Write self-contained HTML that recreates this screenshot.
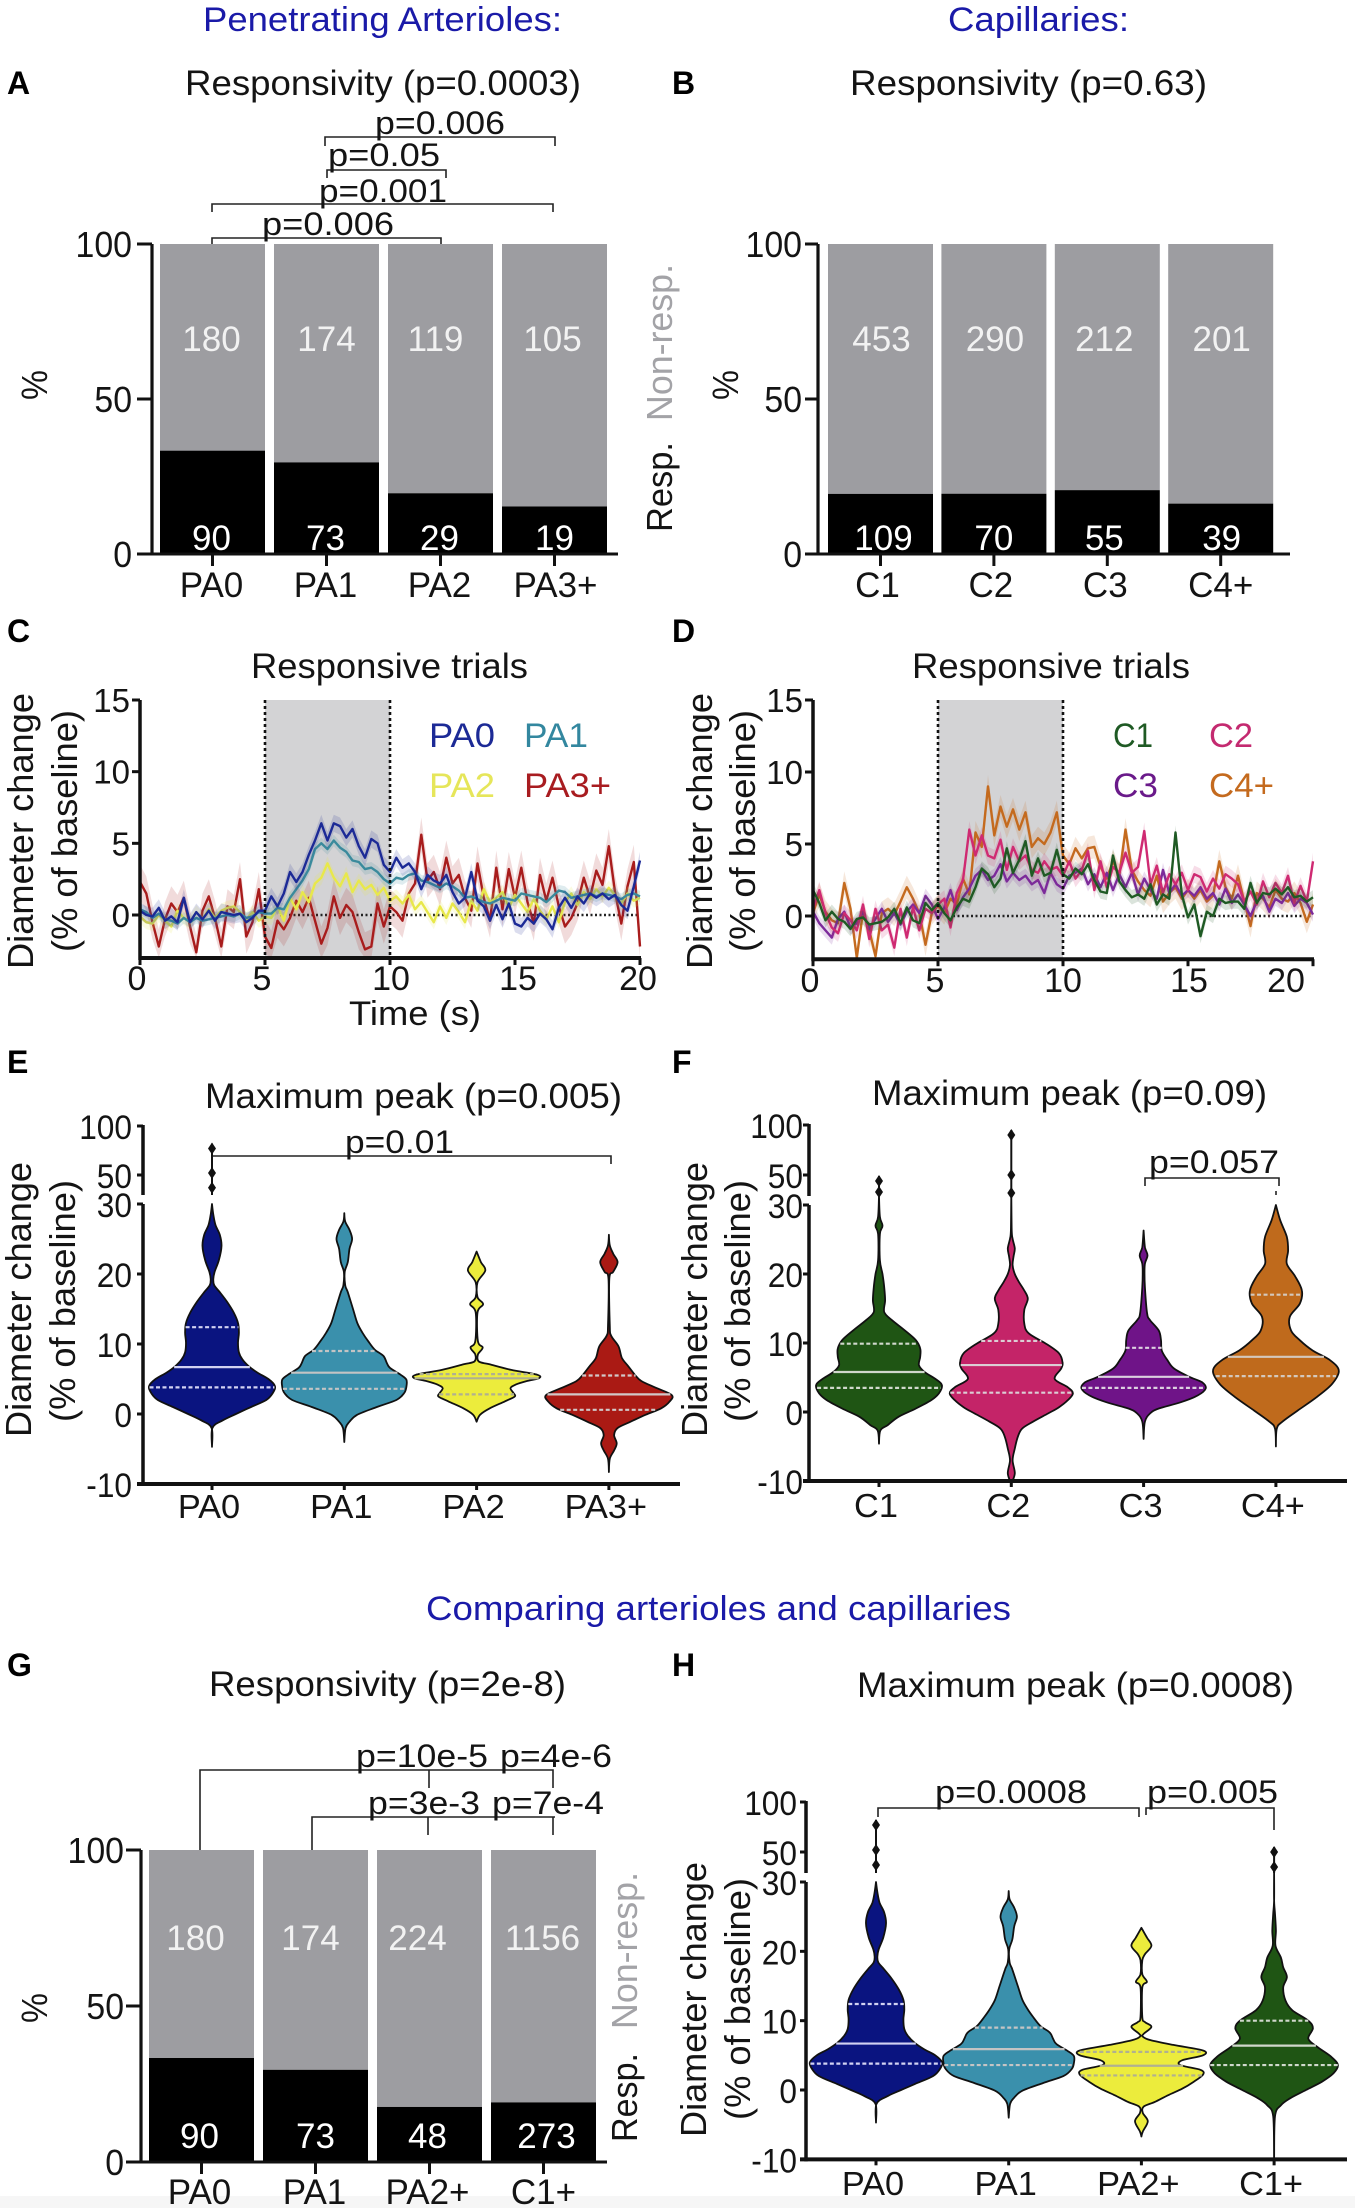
<!DOCTYPE html>
<html lang="en">
<head>
<meta charset="utf-8">
<title>Penetrating arterioles and capillaries responsivity figure</title>
<style>
html,body{margin:0;padding:0;background:#fff;}
svg{display:block;}
text{font-family:"Liberation Sans",Arial,sans-serif;fill:#141414;}
.ttl{font-size:35px;}
.sec{font-size:34px;fill:#1a1aa8;}
.let{font-size:32px;font-weight:bold;fill:#000;}
.pv{font-size:32px;}
.yl{font-size:36px;}
.lg{font-size:34px;}
.brk{fill:none;stroke:#222;stroke-width:1.6;}
</style>
</head>
<body>
<svg id="figure" xmlns="http://www.w3.org/2000/svg" width="1355" height="2208" viewBox="0 0 1355 2208">
<rect x="0" y="0" width="1355" height="2208" fill="#ffffff"/>
<rect x="0" y="2196" width="1355" height="12" fill="#f6f6f6"/>

<text class="sec" x="203" y="31" textLength="359" lengthAdjust="spacingAndGlyphs">Penetrating Arterioles:</text>
<text class="sec" x="948" y="31" textLength="181" lengthAdjust="spacingAndGlyphs">Capillaries:</text>
<text class="sec" x="426" y="1620" textLength="585" lengthAdjust="spacingAndGlyphs">Comparing arterioles and capillaries</text>

<text class="let" x="7" y="94">A</text>
<text class="let" x="672" y="94">B</text>
<text class="let" x="7" y="642">C</text>
<text class="let" x="672" y="642">D</text>
<text class="let" x="7" y="1073">E</text>
<text class="let" x="672" y="1073">F</text>
<text class="let" x="7" y="1676">G</text>
<text class="let" x="672" y="1676">H</text>

<text class="ttl" x="185" y="95" textLength="396" lengthAdjust="spacingAndGlyphs">Responsivity (p=0.0003)</text>
<text class="ttl" x="850" y="95" textLength="357" lengthAdjust="spacingAndGlyphs">Responsivity (p=0.63)</text>
<text class="ttl" x="251" y="678" textLength="277" lengthAdjust="spacingAndGlyphs">Responsive trials</text>
<text class="ttl" x="912" y="678" textLength="278" lengthAdjust="spacingAndGlyphs">Responsive trials</text>
<text class="ttl" x="205" y="1108" textLength="417" lengthAdjust="spacingAndGlyphs">Maximum peak (p=0.005)</text>
<text class="ttl" x="872" y="1105" textLength="395" lengthAdjust="spacingAndGlyphs">Maximum peak (p=0.09)</text>
<text class="ttl" x="209" y="1696" textLength="357" lengthAdjust="spacingAndGlyphs">Responsivity (p=2e-8)</text>
<text class="ttl" x="857" y="1697" textLength="437" lengthAdjust="spacingAndGlyphs">Maximum peak (p=0.0008)</text>

<g>
<path class="brk" d="M325 146V137H555V146"/>
<path class="brk" d="M327 178V170H446V178"/>
<path class="brk" d="M212 212V204H553V212"/>
<path class="brk" d="M212 244V238H441V244"/>
<text class="pv" x="375" y="134" textLength="130" lengthAdjust="spacingAndGlyphs">p=0.006</text>
<text class="pv" x="328" y="166" textLength="112" lengthAdjust="spacingAndGlyphs">p=0.05</text>
<text class="pv" x="319" y="202" textLength="128" lengthAdjust="spacingAndGlyphs">p=0.001</text>
<text class="pv" x="262" y="235" textLength="132" lengthAdjust="spacingAndGlyphs">p=0.006</text>
</g>

<g>
<path class="brk" d="M212 1156H611V1164"/>
<text class="pv" x="345" y="1153" textLength="109" lengthAdjust="spacingAndGlyphs">p=0.01</text>
</g>
<g>
<path class="brk" d="M1145 1186V1178H1279V1186"/>
<path class="brk" d="M1276 1191V1195"/>
<text class="pv" x="1149" y="1173" textLength="130" lengthAdjust="spacingAndGlyphs">p=0.057</text>
</g>
<g>
<path class="brk" d="M200 1852V1770H553V1788M429 1770V1788"/>
<path class="brk" d="M312 1852V1817H555M428 1817V1835M553 1817V1835"/>
<text class="pv" x="356" y="1767" textLength="132" lengthAdjust="spacingAndGlyphs">p=10e-5</text>
<text class="pv" x="500" y="1767" textLength="112" lengthAdjust="spacingAndGlyphs">p=4e-6</text>
<text class="pv" x="368" y="1814" textLength="112" lengthAdjust="spacingAndGlyphs">p=3e-3</text>
<text class="pv" x="492" y="1814" textLength="112" lengthAdjust="spacingAndGlyphs">p=7e-4</text>
</g>
<g>
<path class="brk" d="M878 1817V1808H1139V1817"/>
<path class="brk" d="M1146 1815V1808H1274V1830"/>
<text class="pv" x="935" y="1803" textLength="152" lengthAdjust="spacingAndGlyphs">p=0.0008</text>
<text class="pv" x="1147" y="1803" textLength="131" lengthAdjust="spacingAndGlyphs">p=0.005</text>
</g>

<text class="yl" transform="translate(47,400) rotate(-90)" textLength="30" lengthAdjust="spacingAndGlyphs">%</text>
<text class="yl" transform="translate(738,400) rotate(-90)" textLength="30" lengthAdjust="spacingAndGlyphs">%</text>
<text class="yl" transform="translate(47,2023) rotate(-90)" textLength="30" lengthAdjust="spacingAndGlyphs">%</text>

<text class="yl" transform="translate(672,532) rotate(-90)" textLength="90" lengthAdjust="spacingAndGlyphs">Resp.</text>
<text class="yl" style="fill:#a3a3a7" transform="translate(672,421) rotate(-90)" textLength="157" lengthAdjust="spacingAndGlyphs">Non-resp.</text>
<text class="yl" transform="translate(637,2142) rotate(-90)" textLength="89" lengthAdjust="spacingAndGlyphs">Resp.</text>
<text class="yl" style="fill:#a3a3a7" transform="translate(637,2029) rotate(-90)" textLength="157" lengthAdjust="spacingAndGlyphs">Non-resp.</text>

<g>
<text class="yl" transform="translate(33,969) rotate(-90)" textLength="276" lengthAdjust="spacingAndGlyphs">Diameter change</text>
<text class="yl" transform="translate(77,952) rotate(-90)" textLength="242" lengthAdjust="spacingAndGlyphs">(% of baseline)</text>
</g>
<g>
<text class="yl" transform="translate(712,969) rotate(-90)" textLength="276" lengthAdjust="spacingAndGlyphs">Diameter change</text>
<text class="yl" transform="translate(755,952) rotate(-90)" textLength="242" lengthAdjust="spacingAndGlyphs">(% of baseline)</text>
</g>
<g>
<text class="yl" transform="translate(31,1437) rotate(-90)" textLength="275" lengthAdjust="spacingAndGlyphs">Diameter change</text>
<text class="yl" transform="translate(75,1422) rotate(-90)" textLength="242" lengthAdjust="spacingAndGlyphs">(% of baseline)</text>
</g>
<g>
<text class="yl" transform="translate(707,1437) rotate(-90)" textLength="275" lengthAdjust="spacingAndGlyphs">Diameter change</text>
<text class="yl" transform="translate(750,1422) rotate(-90)" textLength="242" lengthAdjust="spacingAndGlyphs">(% of baseline)</text>
</g>
<g>
<text class="yl" transform="translate(706,2137) rotate(-90)" textLength="275" lengthAdjust="spacingAndGlyphs">Diameter change</text>
<text class="yl" transform="translate(750,2120) rotate(-90)" textLength="242" lengthAdjust="spacingAndGlyphs">(% of baseline)</text>
</g>

<text class="lg" x="349" y="1025" textLength="132" lengthAdjust="spacingAndGlyphs">Time (s)</text>

<g id="charts"></g>

<g>
<text class="lg" style="fill:#1c2a96" x="429" y="747" textLength="66" lengthAdjust="spacingAndGlyphs">PA0</text>
<text class="lg" style="fill:#33879f" x="524" y="747" textLength="64" lengthAdjust="spacingAndGlyphs">PA1</text>
<text class="lg" style="fill:#e6e65a" x="429" y="797" textLength="66" lengthAdjust="spacingAndGlyphs">PA2</text>
<text class="lg" style="fill:#a81c20" x="524" y="797" textLength="87" lengthAdjust="spacingAndGlyphs">PA3+</text>
</g>
<g>
<text class="lg" style="fill:#1f5a24" x="1113" y="747" textLength="40" lengthAdjust="spacingAndGlyphs">C1</text>
<text class="lg" style="fill:#c42a70" x="1209" y="747" textLength="44" lengthAdjust="spacingAndGlyphs">C2</text>
<text class="lg" style="fill:#6a1a8a" x="1113" y="797" textLength="45" lengthAdjust="spacingAndGlyphs">C3</text>
<text class="lg" style="fill:#c46a1e" x="1209" y="797" textLength="65" lengthAdjust="spacingAndGlyphs">C4+</text>
</g>
</svg>

<script>
/* ---------- bar chart data ---------- */
const percentTicks = [0, 50, 100];
const categoriesA = ['PA0', 'PA1', 'PA2', 'PA3+'];
const respA = [90, 73, 29, 19];
const nonRespA = [180, 174, 119, 105];
const categoriesB = ['C1', 'C2', 'C3', 'C4+'];
const respB = [109, 70, 55, 39];
const nonRespB = [453, 290, 212, 201];
const categoriesG = ['PA0', 'PA1', 'PA2+', 'C1+'];
const respG = [90, 73, 48, 273];
const nonRespG = [180, 174, 224, 1156];

/* ---------- time course data (one sample every 0.25 s) ---------- */
const timeTicks = [0, 5, 10, 15, 20];
const diameterTicks = [0, 5, 10, 15];
const namesC = ['pa3', 'pa2', 'pa1', 'pa0'];
const semC = [1.2, 0.5, 0.4, 0.6];
const seriesPA0 = [0.3,0,-0.1,0.5,-0.4,-0.1,-0.5,1.2,-0.5,0.2,-0.3,0.3,-0.4,0.2,0.1,0,0.1,-0.5,-0.2,0.3,0.3,
1.3,0.6,1.5,3.0,2.3,3.0,4.2,5.2,6.4,5.2,6.4,6.2,5.4,6.0,4.8,4.0,5.3,5.0,3.5,3.0,
4.0,3.3,3.6,3.0,1.8,2.8,2.4,2.2,2.8,1.6,0.8,1.2,3.0,1.0,0.6,-0.4,0.7,-0.3,0.8,-0.6,
-0.8,-0.2,-0.6,0.1,-0.3,-1.0,0.5,1.2,0.5,1.3,0.8,1.5,1.2,1.5,1.1,1.4,0.7,0.3,2.0,3.8];
const seriesPA1 = [0.4,0.2,-0.2,0.1,-0.3,-0.4,-0.6,-0.2,-0.5,-0.2,-0.4,-0.3,-0.2,-0.1,0,-0.1,0.1,-0.2,-0.1,0.2,0.1,
0.1,0.5,0.4,1.2,1.8,2.4,3.2,4.6,5.0,4.6,5.2,4.7,4.4,3.8,3.7,3.2,3.3,3.0,2.5,2.2,
2.6,2.5,2.8,2.9,2.4,2.3,2.1,1.9,2.2,2.0,1.7,1.2,1.3,1.1,0.9,0.8,1.0,1.2,1.1,1.0,
1.5,1.4,1.3,1.2,0.9,1.3,1.7,1.6,1.2,1.3,1.4,1.5,1.3,1.5,1.4,1.3,1.1,1.4,1.5,1.3];
const seriesPA2 = [-0.1,-0.5,-0.6,0,-0.4,-0.8,0.3,-0.2,-0.5,0.2,-0.3,0.4,-0.2,0.3,0.5,0.6,0.2,-0.3,0.2,-0.4,-0.1,
-0.2,0.6,-0.4,1.2,0.4,1.6,0.9,2.2,2.6,3.6,2.6,2.0,2.9,1.6,2.4,1.8,2.1,1.4,1.9,1.0,
1.3,0.8,1.4,0.4,0.9,0.2,-0.5,0.6,-0.2,0.8,0.2,-0.5,1.0,0.3,1.8,0.9,1.2,1.6,0.5,1.4,
0.8,0.2,1.1,0.3,-0.3,0.6,-0.5,0.9,1.5,0.7,1.6,1.1,1.8,1.3,1.9,1.4,0.8,1.5,1.0,1.2];
const seriesPA3 = [2.3,1.5,-0.5,-2.2,-0.3,0.8,0.2,1.2,-0.8,-2.6,0.3,1.3,-0.2,-2.2,0.6,0.2,2.5,-1.5,-0.5,1.8,-1.5,
-2.3,-0.4,-1.0,-0.2,1.0,0.2,1.2,-0.4,-2.0,-0.9,1.3,-0.2,0.7,0.2,-1.2,-2.4,-2.2,0.8,-0.8,0.6,
0.2,-0.4,1.5,2.2,5.6,2.4,3.0,1.8,4.0,2.2,2.8,1.2,0.3,3.6,1.2,-0.4,3.3,0.4,3.2,1.2,
3.3,0.9,-0.6,2.8,1.0,2.6,0.6,-0.8,-0.2,0.8,2.6,1.2,3.1,2.1,4.8,1.6,-0.6,2.0,3.7,-2.2];

const namesD = ['c4', 'c3', 'c2', 'c1'];
const semD = [0.8, 0.5, 0.6, 0.5];
const seriesC1 = [1.8,0.9,-0.3,0.3,-0.2,-0.4,-0.9,-0.2,-0.1,-0.6,-0.5,-0.4,-0.1,0.5,-0.5,0.6,-0.3,-0.5,0.9,0.4,0.9,
0.2,-0.3,0.6,1.2,1.0,2.0,3.3,2.9,2.0,2.6,4.7,3.0,3.9,5.2,2.8,4.0,2.8,3.0,4.6,2.9,
2.6,3.3,2.9,3.6,2.5,1.7,1.6,4.2,2.4,1.8,1.3,1.5,1.2,2.2,0.8,1.5,1.2,5.8,1.5,-0.1,
0.8,-1.4,0.3,0,1.2,0.9,1.0,1.0,0.5,2.3,0.9,1.6,1.5,1.9,1.5,2.0,1.3,1.4,1.0,1.3];
const seriesC2 = [0.5,1.8,0.2,-0.8,-1.2,0.2,-0.3,-1.0,0.8,-1.6,0.5,-1.0,-0.6,-2.2,0.5,-1.5,0.6,-1.0,0.5,0.2,0.8,
1.2,-0.8,1.6,2.5,6.0,4.2,5.6,4.2,4.0,5.3,3.2,4.8,3.8,4.2,3.2,3.0,3.8,3.2,3.4,2.8,
3.8,2.6,3.2,4.5,1.8,3.8,2.0,3.4,3.0,4.4,3.0,3.4,5.9,2.2,3.5,1.6,2.9,2.2,3.0,1.8,
2.9,2.7,1.7,2.6,1.9,2.9,2.6,2.2,1.0,1.7,0.8,2.4,1.3,2.3,1.6,2.8,0.9,2.1,1.0,3.8];
const seriesC3 = [0.3,-0.5,-1.0,-1.5,-0.2,0.3,-0.8,-0.5,0.3,-0.9,-0.2,0.5,-0.4,0.2,-0.6,0.3,0.8,0.2,1.4,0.8,-0.2,
0.6,1.8,0.4,1.3,1.9,2.8,3.2,2.5,2.8,3.6,2.4,3.0,2.5,2.8,2.2,2.5,1.6,3.0,2.2,1.9,
2.8,3.0,3.3,2.2,2.9,2.0,3.0,1.8,2.9,2.0,3.0,1.5,2.6,1.8,1.2,3.2,1.6,2.2,1.4,1.8,
1.4,2.0,1.2,1.6,0.8,1.9,0.9,1.5,0.8,0,1.0,1.4,0.3,1.2,0.9,1.6,0.7,1.2,0.9,0.1];
const seriesC4 = [0.2,1.5,0.3,-0.3,-0.5,2.3,0.5,-2.9,0.3,-1.0,-2.8,0.2,0.5,0.1,1.0,2.0,1.2,0.2,-2.0,0.2,0.7,
0.2,1.2,0.8,2.6,1.5,5.8,4.8,9.0,5.6,7.6,6.2,7.4,6.0,7.2,4.8,5.4,5.0,5.8,7.2,4.2,
3.6,4.7,4.0,4.7,4.8,3.4,2.6,3.8,2.8,6.0,3.2,2.4,1.8,1.4,2.8,1.0,1.6,2.0,1.2,1.8,
1.2,1.8,1.0,1.4,3.8,2.0,1.2,2.8,1.0,-0.7,1.6,1.2,0.6,1.8,1.2,1.0,1.6,0.9,-0.4,0.8];

/* ---------- violin data ---------- */
const violinTicks = [-10, 0, 10, 20, 30, 50, 100];
const categoriesE = ['PA0', 'PA1', 'PA2', 'PA3+'];
const categoriesF = ['C1', 'C2', 'C3', 'C4+'];
const categoriesH = ['PA0', 'PA1', 'PA2+', 'C1+'];

const valuesPA0 = [-4.7,-2,-0.9,0,1,2,3,4,5,5.9,6.8,7.8,8.8,10.2,11.6,13,14.5,16,17.4,18.4,19.3,20.3,22,24,25.6,27,28.5,30];
const densityPA0 = [0,1,25,55,90,125,140,145,130,105,85,70,62,60,62,60,50,35,18,5,3,6,16,22,18,8,3,0];
const quartilesPA0 = [3.8,6.7,12.4];
const outliersPA0 = [37,52,77];

const valuesPA1 = [-4,-2,-1.1,-0.1,1,2,3,3.9,4.9,5.6,6.6,7.3,8.3,9.2,10.4,11.6,13,15,17.4,18.4,20.3,21.7,23.6,25,26.3,27.5,28.7];
const densityPA1 = [0,3,12,30,75,120,138,143,143,130,105,98,90,70,55,42,30,20,8,2,1,8,12,18,12,2,0];
const quartilesPA1 = [3.6,5.9,9];
const outliersPA1 = [];

const valuesPA2 = [-1.1,-0.1,0.8,1.8,2.5,3,3.7,4.2,4.7,5.1,5.6,6.3,7.1,7.5,8.5,9.5,10.4,14.5,15.7,16.7,18.8,20.5,21.7,23.2];
const densityPA2 = [0,8,30,65,88,85,78,90,115,143,140,80,30,5,3,14,3,2,15,2,2,20,10,0];
const quartilesPA2 = [2.8,5.1,5.7];
const outliersPA2 = [];

const valuesPA3 = [-8.3,-6.4,-5.2,-4.2,-3,-2,-1.1,-0.1,0.8,1.8,2.7,3.7,4.7,5.6,6.8,8,9.7,11.2,12.6,19.3,20.3,21.7,22.9,24.1,25.6];
const densityPA3 = [0,2,12,18,12,20,50,85,120,140,145,110,75,60,45,30,22,5,2,1,10,20,10,2,0];
const quartilesPA3 = [0.6,2.8,5.5];
const outliersPA3 = [];

const valuesC1 = [-4.6,-2.7,-1.9,-0.7,0.5,1.7,2.7,3.9,4.8,5.8,6.8,8,9.2,10.4,11.8,13.3,14.5,16.2,18.1,20,22,25.8,27,28.3,30.2];
const densityC1 = [0,3,20,45,85,120,138,145,130,105,92,95,95,85,60,30,12,14,12,8,2,2,8,2,0];
const quartilesC1 = [3.5,5.8,9.9];
const outliersC1 = [33,44];

const valuesC2 = [-10.4,-8.9,-7,-5.3,-3.6,-2.4,-1.4,-0.2,0.7,1.7,2.7,3.6,4.8,6.3,7.2,8.5,9.9,11.4,12.8,14.8,16.4,17.6,18.8,20,21.3,22.5,23.7,25.1,26.3,30.2];
const densityC2 = [0,8,3,8,15,25,50,85,110,130,142,130,100,115,118,110,80,40,30,30,38,30,18,8,3,5,8,3,1,0];
const quartilesC2 = [2.8,6.8,10.3];
const outliersC2 = [32,50,90];

const valuesC3 = [-3.9,-1.4,-0.2,0.5,1.4,2.4,3.4,4.3,5.1,6.3,7.5,8.9,10.4,11.8,13.3,14.3,18.1,20,21.5,22.7,23.9,26.3];
const densityC3 = [0,3,15,35,85,125,143,135,105,70,55,42,40,35,15,8,3,2,3,9,3,0];
const quartilesC3 = [3.5,5.1,9.3];
const outliersC3 = [];

const valuesC4 = [-5,-2.4,-1.4,0.2,2.2,4.1,6,7.5,8.9,10.4,11.8,13.8,15.7,17.6,19.6,21.5,23.4,25.4,27.8,30];
const densityC4 = [0,2,15,50,95,130,145,125,85,55,35,32,55,60,45,25,28,25,10,0];
const quartilesC4 = [5.2,8,17];
const outliersC4 = [];

const valuesPA2plus = [-6.7,-6,-4.5,-3.3,-2.4,-1.7,-0.7,0.2,1.2,2.2,2.9,3.6,4.3,5,5.7,6.5,7.2,7.7,8.1,9.1,9.8,10.5,14.8,15.6,16.7,18.7,19.6,20.8,22,23.4];
const densityPA2plus = [0,3,14,3,5,30,60,90,115,135,130,85,90,135,135,70,20,3,5,22,8,2,2,12,2,2,8,22,12,0];
const quartilesPA2plus = [2.1,3.5,5.5];
const outliersPA2plus = [];

const valuesC1plus = [-10,-3.8,-2.2,-1.2,0,1.2,2.4,3.6,4.8,6.2,7.4,8.9,10,11.5,12.9,14.8,16.3,17.7,19.1,20.8,23,25.4,27.3,30.1];
const densityC1plus = [0,2,15,35,70,105,130,140,125,95,75,85,75,40,25,20,28,20,15,3,4,2,0,0];
const quartilesC1plus = [3.6,6.4,10];
const outliersC1plus = [35,50];

/* ---------- drawing helpers ---------- */
const NS = 'http://www.w3.org/2000/svg';
const root = document.getElementById('charts');

function make(tag, attrs, parent) {
  const node = document.createElementNS(NS, tag);
  for (const k in attrs) node.setAttribute(k, attrs[k]);
  parent.appendChild(node);
  return node;
}
function label(parent, x, y, str, size, anchor, fill, fit) {
  const t = make('text', {x: x, y: y, 'font-size': size, 'text-anchor': anchor}, parent);
  if (fill) t.style.fill = fill;
  t.textContent = str;
  if (fit) {
    t.setAttribute('textLength', (t.getComputedTextLength() * fit).toFixed(1));
    t.setAttribute('lengthAdjust', 'spacingAndGlyphs');
  }
  return t;
}
function smoothPath(pts) {
  let d = '';
  for (let i = 0; i < pts.length - 1; i++) {
    const p0 = pts[Math.max(0, i - 1)], p1 = pts[i], p2 = pts[i + 1], p3 = pts[Math.min(pts.length - 1, i + 2)];
    const c1x = p1[0] + (p2[0] - p0[0]) / 6, c1y = p1[1] + (p2[1] - p0[1]) / 6;
    const c2x = p2[0] - (p3[0] - p1[0]) / 6, c2y = p2[1] - (p3[1] - p1[1]) / 6;
    d += 'C' + c1x.toFixed(1) + ' ' + c1y.toFixed(1) + ' ' + c2x.toFixed(1) + ' ' + c2y.toFixed(1) + ' ' + p2[0].toFixed(1) + ' ' + p2[1].toFixed(1);
  }
  return d;
}

/* ---------- stacked percent bars ---------- */
function drawBars(panel, cfg, cats, resp, nonResp) {
  const g = make('g', {}, root);
  
  
  const yPct = p => cfg.y0 + (cfg.y100 - cfg.y0) * p / 100;
  const bandLeft = i => cfg.left + cfg.step * i;

  cats.forEach((cat, i) => {
    const total = resp[i] + nonResp[i];
    const pct = 100 * resp[i] / total;
    const x = bandLeft(i);
    const grey = make('rect', {x: x, y: yPct(100), width: cfg.w, height: yPct(pct) - yPct(100), fill: '#9d9da1'}, g);
    
    
    const black = make('rect', {x: x, y: yPct(pct), width: cfg.w, height: yPct(0) - yPct(pct), fill: '#000'}, g);
    
    
    const top = label(g, x + cfg.w / 2 + cfg.nudgeTop[i], cfg.topBase, nonResp[i], 35, 'middle', '#f2f2f2');
    
    
    const low = label(g, x + cfg.w / 2 + cfg.nudgeLow[i], cfg.lowBase, resp[i], 35, 'middle', '#ffffff');
    
    
    const tick = make('line', {x1: x + cfg.w / 2, x2: x + cfg.w / 2, y1: cfg.y0, y2: cfg.y0 + 12, stroke: '#111', 'stroke-width': 3}, g);
    
    
    const name = label(g, x + cfg.w / 2 + cfg.nudgeCat[i], cfg.catBase, cat, 35, 'middle');
    
    
  });
  percentTicks.forEach(v => {
    const tick = make('line', {x1: cfg.tickL, x2: cfg.axisX, y1: yPct(v), y2: yPct(v), stroke: '#111', 'stroke-width': 3}, g);
    
    
    const lab = label(g, cfg.labelR, yPct(v) + 13, v, 36, 'end', null, 0.94);
    
    
  });
  const yAxis = make('line', {x1: cfg.axisX, x2: cfg.axisX, y1: yPct(100), y2: yPct(0) + 1.5, stroke: '#111', 'stroke-width': 3.2}, g);
  
  
  const xAxis = make('line', {x1: cfg.tickL, x2: cfg.axisR, y1: yPct(0), y2: yPct(0), stroke: '#111', 'stroke-width': 3}, g);
  
  
}

drawBars('a', {left: 160, step: 114, w: 105, y0: 554, y100: 244, axisX: 152, tickL: 137, axisR: 618, labelR: 132,
  topBase: 351, lowBase: 550, catBase: 597, nudgeTop: [-1, 0, -5, -2], nudgeLow: [-1, -1, -1, 0], nudgeCat: [-1, -1, -1, 1]}, categoriesA, respA, nonRespA);
drawBars('b', {left: 828, step: 113.4, w: 105, y0: 554, y100: 244, axisX: 818, tickL: 805, axisR: 1290, labelR: 802,
  topBase: 351, lowBase: 550, catBase: 597, nudgeTop: [1, 1, -3, 1], nudgeLow: [3, 0, -3, 1], nudgeCat: [-3, -3, -2, 0]}, categoriesB, respB, nonRespB);
drawBars('g', {left: 149, step: 114, w: 105, y0: 2162, y100: 1850, axisX: 141, tickL: 126, axisR: 607, labelR: 124,
  topBase: 1950, lowBase: 2148, catBase: 2204, nudgeTop: [-6, -5, -12, -1], nudgeLow: [-2, 0, -2, 3], nudgeCat: [-2, -1, -2, 0]}, categoriesG, respG, nonRespG);

/* ---------- time courses ---------- */
function drawTime(panel, cfg, names, seriesList, sem, colors) {
  const g = make('g', {}, root);
  
  
  const x = t => cfg.x0 + cfg.pxPerS * t;
  const y = v => cfg.y0 + (cfg.y15 - cfg.y0) * v / 15;

  const stim = make('rect', {x: x(5), y: y(15), width: x(10) - x(5), height: y(-3) - y(15), fill: '#d3d3d5'}, g);
  
  

  const zero = make('line', {x1: x(5.6), x2: x(20), y1: y(0), y2: y(0), stroke: '#222', 'stroke-width': 2.4, 'stroke-dasharray': '2 2.5'}, g);
  
  

  seriesList.forEach((values, s) => {
    const dt = 20 / (values.length - 1);
    let upper = '', lower = '', line = '';
    values.forEach((v, i) => {
      const px = x(i * dt).toFixed(1);
      upper += (i ? 'L' : 'M') + px + ' ' + y(Math.min(15, v + sem[s])).toFixed(1);
      line += (i ? 'L' : 'M') + px + ' ' + y(v).toFixed(1);
    });
    for (let i = values.length - 1; i >= 0; i--) {
      lower += 'L' + x(i * dt).toFixed(1) + ' ' + y(Math.max(-3, values[i] - sem[s])).toFixed(1);
    }
    const band = make('path', {d: upper + lower + 'Z', fill: colors[s], 'fill-opacity': 0.16, stroke: 'none'}, g);
    
    
    const path = make('path', {d: line, fill: 'none', stroke: colors[s], 'stroke-width': 2.4, 'stroke-linejoin': 'round'}, g);
    
    
  });

  [5, 10].forEach(t => {
    const dash = make('line', {x1: x(t), x2: x(t), y1: y(15), y2: y(-3), stroke: '#111', 'stroke-width': 2.6, 'stroke-dasharray': '3 3'}, g);
    
    
  });

  diameterTicks.forEach(v => {
    const tick = make('line', {x1: cfg.x0 - 8, x2: cfg.x0, y1: y(v), y2: y(v), stroke: '#111', 'stroke-width': 3}, g);
    
    
    const lab = label(g, cfg.labelR, y(v) + 12, v, 33, 'end');
    
    
  });
  timeTicks.forEach((t, i) => {
    const tick = make('line', {x1: x(t), x2: x(t), y1: y(-3), y2: y(-3) + 7, stroke: '#111', 'stroke-width': 3}, g);
    
    
    const lab = label(g, x(t) + cfg.labelNudge[i], cfg.tickBase, t, 34, 'middle');
    
    
  });
  const yAxis = make('line', {x1: cfg.x0, x2: cfg.x0, y1: y(15), y2: y(-3) + 2, stroke: '#111', 'stroke-width': 3.5}, g);
  
  
  const xAxis = make('line', {x1: cfg.x0, x2: x(20) + 1, y1: y(-3), y2: y(-3), stroke: '#111', 'stroke-width': 4}, g);
  
  
}

drawTime('c', {x0: 140, pxPerS: 25, y0: 915, y15: 700, labelR: 130, tickBase: 990, labelNudge: [-3, -3, 1, 3, -2]},
  namesC, [seriesPA3, seriesPA2, seriesPA1, seriesPA0], semC, ['#a81c1c', '#e8e84a', '#3a8a9c', '#1c2a96']);
drawTime('d', {x0: 813, pxPerS: 25, y0: 916, y15: 700, labelR: 803, tickBase: 992, labelNudge: [-3, -3, 0, 1, -27]},
  namesD, [seriesC4, seriesC3, seriesC2, seriesC1], semD, ['#c46a1e', '#7c2a9a', '#cf2a72', '#1f5a24']);

/* ---------- violins ---------- */
function drawViolins(panel, cfg, cats, list) {
  const g = make('g', {}, root);
  
  
  const y = v => {
    if (v <= 30) return cfg.y0 + (cfg.y30 - cfg.y0) * v / 30;
    return cfg.y50 + (v - 50) * (cfg.y100 - cfg.y50) / 50;
  };
  const center = i => cfg.first + cfg.step * i;
  const widthAt = (vals, dens, v) => {
    for (let k = 0; k < vals.length - 1; k++) {
      if (v >= vals[k] && v <= vals[k + 1]) {
        return dens[k] + (dens[k + 1] - dens[k]) * (v - vals[k]) / (vals[k + 1] - vals[k]);
      }
    }
    return 0;
  };

  list.forEach((item, i) => {
    const cx = center(i);
    const right = item.values.map((v, k) => [cx + item.density[k] * cfg.wScale, y(v)]);
    const left = item.values.map((v, k) => [cx - item.density[k] * cfg.wScale, y(v)]).reverse();
    const d = 'M' + right[0][0].toFixed(1) + ' ' + right[0][1].toFixed(1) + smoothPath(right) + smoothPath(left) + 'Z';
    const body = make('path', {d: d, fill: item.color, stroke: '#111', 'stroke-width': 1.8, 'stroke-linejoin': 'round'}, g);
    
    

    item.quartiles.forEach((q, k) => {
      const hw = widthAt(item.values, item.density, q) * cfg.wScale;
      const attrs = {x1: cx - hw, x2: cx + hw, y1: y(q), y2: y(q), stroke: item.lineColor, 'stroke-width': 2.2};
      if (k !== 1) attrs['stroke-dasharray'] = '4 2.5';
      const line = make('line', attrs, g);
      
      
    });

    if (item.outliers.length) {
      const hi = Math.max.apply(null, item.outliers);
      const stem = make('line', {x1: cx, x2: cx, y1: y(hi) - 5, y2: cfg.y30 - 9, stroke: '#111', 'stroke-width': 2}, g);
      
      
      item.outliers.forEach(o => {
        const py = y(o);
        const dot = make('path', {d: 'M' + cx + ' ' + (py - 6) + 'L' + (cx + 4) + ' ' + py + 'L' + cx + ' ' + (py + 6) + 'L' + (cx - 4) + ' ' + py + 'Z', fill: '#111'}, g);
        
        
      });
    }

    const tick = make('line', {x1: cx, x2: cx, y1: y(-10), y2: y(-10) + 6, stroke: '#111', 'stroke-width': 3}, g);
    
    
    const name = label(g, cx - 3, cfg.catBase, cats[i], 33, 'middle', null, 1.04);
    
    
  });

  violinTicks.forEach(v => {
    const tick = make('line', {x1: cfg.axisX - 6, x2: cfg.axisX, y1: y(v), y2: y(v), stroke: '#111', 'stroke-width': 3}, g);
    
    
    const lab = label(g, cfg.labelR, y(v) + 13, v, 34, 'end', null, 0.93);
    
    
  });
  const upper = make('line', {x1: cfg.axisX, x2: cfg.axisX, y1: y(100) - 1, y2: cfg.y30 - 9, stroke: '#111', 'stroke-width': 3.5}, g);
  
  
  const lower = make('line', {x1: cfg.axisX, x2: cfg.axisX, y1: cfg.y30, y2: y(-10) + 2, stroke: '#111', 'stroke-width': 3.5}, g);
  
  
  const xAxis = make('line', {x1: cfg.axisX - 6, x2: cfg.axisR, y1: y(-10), y2: y(-10), stroke: '#111', 'stroke-width': 4}, g);
  
  
}

const blue = {color: '#0a1480', lineColor: '#d2d2f2'};
const teal = {color: '#3a90ac', lineColor: '#c4c4c4'};
const yellow = {color: '#ecec3c', lineColor: '#b0b090'};
const red = {color: '#aa1a14', lineColor: '#d2c8c8'};
const green = {color: '#1f5514', lineColor: '#d0d8cc'};
const pink = {color: '#c42468', lineColor: '#dccdd4'};
const purple = {color: '#6f1488', lineColor: '#dcd0e0'};
const orange = {color: '#bf6a1c', lineColor: '#d4c8bc'};

function violin(values, density, quartiles, outliers, style) {
  return {values: values, density: density, quartiles: quartiles, outliers: outliers, color: style.color, lineColor: style.lineColor};
}

drawViolins('e', {first: 212, step: 132.3, wScale: 0.434, axisX: 143, axisR: 680, labelR: 132, catBase: 1518,
  y100: 1126, y50: 1175, y30: 1204, y0: 1414}, categoriesE, [
  violin(valuesPA0, densityPA0, quartilesPA0, outliersPA0, blue),
  violin(valuesPA1, densityPA1, quartilesPA1, outliersPA1, teal),
  violin(valuesPA2, densityPA2, quartilesPA2, outliersPA2, yellow),
  violin(valuesPA3, densityPA3, quartilesPA3, outliersPA3, red)
]);
drawViolins('f', {first: 879, step: 132.3, wScale: 0.434, axisX: 809, axisR: 1347, labelR: 803, catBase: 1517,
  y100: 1125, y50: 1175, y30: 1205, y0: 1412}, categoriesF, [
  violin(valuesC1, densityC1, quartilesC1, outliersC1, green),
  violin(valuesC2, densityC2, quartilesC2, outliersC2, pink),
  violin(valuesC3, densityC3, quartilesC3, outliersC3, purple),
  violin(valuesC4, densityC4, quartilesC4, outliersC4, orange)
]);
drawViolins('h', {first: 876, step: 132.7, wScale: 0.456, axisX: 806, axisR: 1347, labelR: 797, catBase: 2195,
  y100: 1802, y50: 1852, y30: 1882, y0: 2090}, categoriesH, [
  violin(valuesPA0, densityPA0, quartilesPA0, outliersPA0, blue),
  violin(valuesPA1, densityPA1, quartilesPA1, outliersPA1, teal),
  violin(valuesPA2plus, densityPA2plus, quartilesPA2plus, outliersPA2plus, yellow),
  violin(valuesC1plus, densityC1plus, quartilesC1plus, outliersC1plus, green)
]);
</script>
</body>
</html>
